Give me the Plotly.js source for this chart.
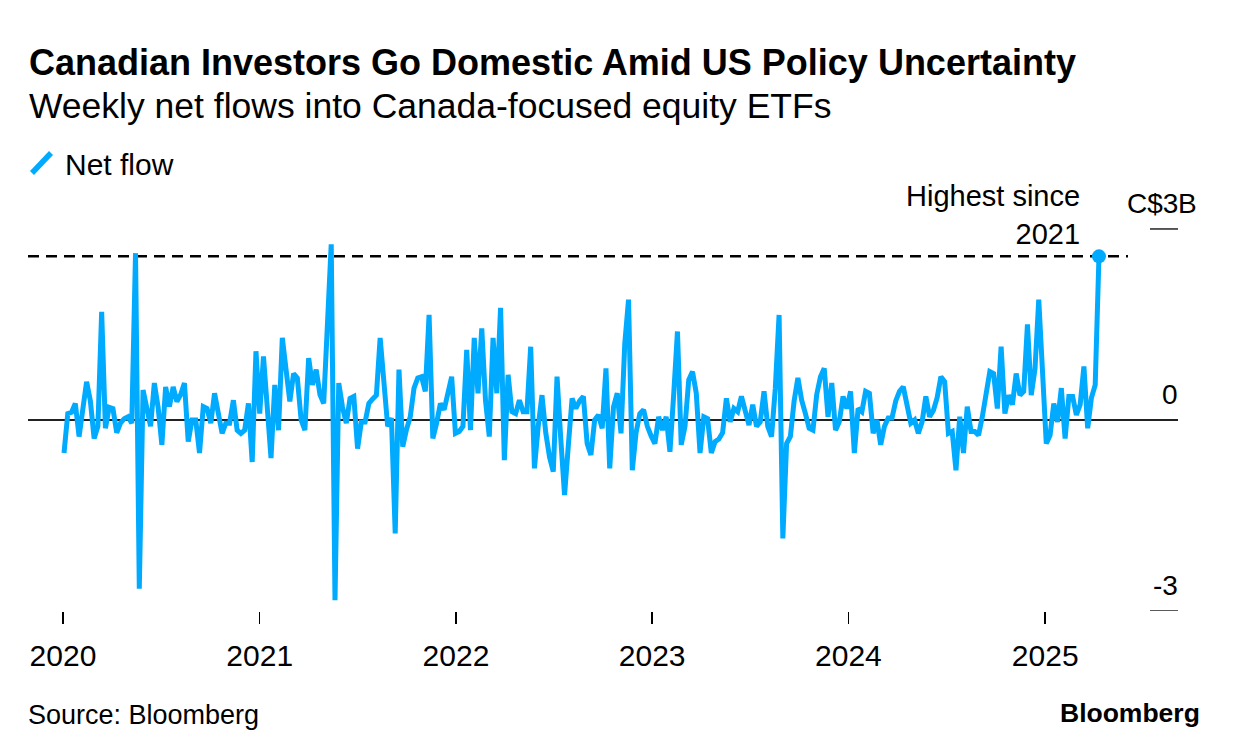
<!DOCTYPE html>
<html>
<head>
<meta charset="utf-8">
<script src="https://cdn.plot.ly/plotly-3.0.1.min.js"></script>
<style>
  html, body { margin: 0; padding: 0; background: #ffffff; }
  #chart { width: 1240px; height: 756px; }
</style>
</head>
<body>
<div id="chart"></div>
<script>
// ---- Data (weekly net flows, C$ billions) ----
const startDate = '2020-01-03';
const netFlow = [
  -0.52, 0.1, 0.12, 0.26, -0.26, 0.25, 0.6, 0.3, -0.29, -0.1,
  1.7, -0.13, 0.2, 0.18, -0.2, -0.05, 0.02, 0.05, -0.05, 2.62,
  -2.65, 0.47, 0.2, -0.1, 0.58, 0.2, -0.39, 0.52, 0.21, 0.52,
  0.29, 0.4, 0.58, -0.34, 0.0, 0.0, -0.52, 0.21, 0.18, -0.05,
  0.42, 0.1, -0.21, -0.05, -0.05, 0.31, -0.16, -0.21, -0.16, 0.26,
  -0.66, 1.08, 0.1, 1.0, 0.3, -0.6, 0.55, -0.16, 1.29, 0.7,
  0.29, 0.73, 0.66, 0.0, -0.16, 0.97, 0.55, 0.79, 0.4, 0.26,
  1.4, 2.76, -2.83, 0.58, 0.2, -0.05, 0.34, 0.37, -0.45, -0.03,
  -0.03, 0.26, 0.33, 0.39, 1.29, 0.6, -0.1, 0.03, -1.78, 0.79,
  -0.42, -0.15, 0.05, 0.5, 0.66, 0.68, 0.45, 1.65, -0.29, -0.05,
  0.26, 0.16, 0.4, 0.68, -0.21, -0.18, -0.1, 1.1, -0.16, 1.29,
  0.42, 1.44, 0.3, -0.26, 1.29, 0.42, 1.76, -0.63, 0.71, 0.13,
  0.1, 0.31, 0.13, 0.13, 1.15, -0.76, -0.1, 0.39, -0.2, -0.58,
  -0.81, 0.68, -0.3, -1.18, -0.4, 0.34, 0.18, 0.3, 0.37, -0.37,
  -0.55, 0.0, 0.08, -0.13, 0.81, -0.76, 0.2, 0.42, -0.21, 1.2,
  1.89, -0.79, -0.2, 0.1, 0.16, -0.1, -0.25, -0.37, 0.05, -0.16,
  0.05, -0.5, 0.4, 1.39, -0.39, -0.1, 0.63, 0.76, 0.42, -0.52,
  0.05, 0.02, -0.52, -0.34, -0.3, -0.2, 0.34, -0.03, 0.18, 0.13,
  0.37, 0.15, -0.08, 0.24, -0.1, -0.03, 0.45, -0.1, -0.26, 0.5,
  1.65, -1.86, -0.37, -0.26, 0.3, 0.66, 0.31, 0.1, -0.13, -0.16,
  0.4, 0.68, 0.81, 0.05, 0.58, -0.16, -0.03, 0.37, 0.18, 0.45,
  -0.52, 0.18, 0.13, 0.45, 0.42, -0.21, 0.0, -0.39, -0.1, 0.03,
  0.03, 0.3, 0.45, 0.52, 0.2, -0.05, 0.0, -0.21, -0.03, 0.37,
  0.05, 0.15, 0.35, 0.68, 0.6, -0.21, -0.18, -0.79, 0.05, -0.52,
  0.21, -0.18, -0.18, -0.24, 0.05, 0.4, 0.76, 0.73, 0.18, 1.15,
  0.1, 0.39, 0.24, 0.73, 0.39, 0.45, 1.5, 0.39, 0.8, 1.89,
  0.6, -0.37, -0.24, 0.26, -0.03, 0.5, -0.29, 0.37, 0.37, 0.08,
  0.24, 0.84, -0.13, 0.35, 0.55, 2.57
];
const xTickVals = ['2020-01-01', '2021-01-01', '2022-01-01', '2023-01-01', '2024-01-01', '2025-01-01'];
const xTickText = ['2020', '2021', '2022', '2023', '2024', '2025'];
const yTickVals = [3, 0, -3];
const yTickText = ['C$3', '0', '-3'];
const yUnitSuffix = 'B';
const titleText = 'Canadian Investors Go Domestic Amid US Policy Uncertainty';
const subtitleText = 'Weekly net flows into Canada-focused equity ETFs';
const seriesName = 'Net flow';
const noteText = 'Highest since<br>2021';
const sourceText = 'Source: Bloomberg';
const brandText = 'Bloomberg';

// ---- Build weekly dates ----
const dates = netFlow.map((_, i) => {
  const d = new Date(startDate + 'T00:00:00Z');
  d.setUTCDate(d.getUTCDate() + 7 * i);
  return d.toISOString().slice(0, 10);
});
const lastIdx = netFlow.length - 1;
const lastVal = netFlow[lastIdx];

// ---- Styling ----
const BLUE = '#00aaff';
const FONT = 'Liberation Sans, Arial, Helvetica, sans-serif';
const W = 1240, H = 756;
const M = { l: 28, r: 62, t: 200, b: 145 };
const plotW = W - M.l - M.r, plotH = H - M.t - M.b;
const px = x => (x - M.l) / plotW;          // pixel x -> paper x
const py = y => (H - M.b - y) / plotH;      // pixel y -> paper y

const traces = [
  {
    type: 'scatter', mode: 'lines', x: dates, y: netFlow, name: seriesName,
    line: { color: BLUE, width: 5, shape: 'linear' },
    hoverinfo: 'skip', showlegend: false
  },
  {
    type: 'scatter', mode: 'markers', x: [dates[lastIdx]], y: [lastVal],
    marker: { color: BLUE, size: 14 }, hoverinfo: 'skip', showlegend: false
  }
];

const annotations = [];
// title & subtitle
annotations.push({ xref: 'paper', yref: 'paper', x: px(27), y: py(62), xanchor: 'left', yanchor: 'middle',
  text: '<b>' + titleText + '</b>', showarrow: false, font: { family: FONT, size: 36, color: '#000' } });
annotations.push({ xref: 'paper', yref: 'paper', x: px(27), y: py(106), xanchor: 'left', yanchor: 'middle',
  text: subtitleText, showarrow: false, font: { family: FONT, size: 35.5, color: '#000' } });
// legend text
annotations.push({ xref: 'paper', yref: 'paper', x: px(63), y: py(164), xanchor: 'left', yanchor: 'middle',
  text: seriesName, showarrow: false, font: { family: FONT, size: 30, color: '#000' } });
// y tick labels (drawn above short tick lines at right)
yTickVals.forEach((v, k) => {
  annotations.push({ xref: 'paper', yref: 'y', x: 1, y: v, xanchor: 'right', yanchor: 'bottom', yshift: 8, xshift: 2,
    text: yTickText[k], showarrow: false, font: { family: FONT, size: 28, color: '#000' } });
});
annotations.push({ xref: 'paper', yref: 'y', x: 1, y: yTickVals[0], xanchor: 'left', yanchor: 'bottom', yshift: 8, xshift: -2,
  text: yUnitSuffix, showarrow: false, font: { family: FONT, size: 28, color: '#000' } });
// note
annotations.push({ xref: 'paper', yref: 'paper', x: px(1082), y: py(215), xanchor: 'right', yanchor: 'middle', align: 'right',
  text: noteText, showarrow: false, font: { family: FONT, size: 29, color: '#000' } });
// source & brand
annotations.push({ xref: 'paper', yref: 'paper', x: px(26), y: py(715), xanchor: 'left', yanchor: 'middle',
  text: sourceText, showarrow: false, font: { family: FONT, size: 27, color: '#000' } });
annotations.push({ xref: 'paper', yref: 'paper', x: px(1202), y: py(713), xanchor: 'right', yanchor: 'middle',
  text: '<b>' + brandText + '</b>', showarrow: false, font: { family: FONT, size: 26.5, color: '#000' } });

const shapes = [
  // dashed "highest since" reference line
  { type: 'line', xref: 'paper', yref: 'y', x0: 0, x1: px(1128), y0: lastVal, y1: lastVal, layer: 'below',
    line: { color: '#000', width: 2.5, dash: '11px,7px' } },
  // short right-side tick lines for +/-3
  { type: 'line', xref: 'paper', yref: 'y', x0: px(1150), x1: 1, y0: yTickVals[0], y1: yTickVals[0],
    line: { color: '#000', width: 1.3 } },
  { type: 'line', xref: 'paper', yref: 'y', x0: px(1150), x1: 1, y0: yTickVals[2], y1: yTickVals[2],
    line: { color: '#000', width: 1.3 } },
  // legend slash
  { type: 'line', xref: 'paper', yref: 'paper', x0: px(32), y0: py(173), x1: px(51), y1: py(153),
    line: { color: BLUE, width: 5.5 } }
];

const layout = {
  width: W, height: H,
  margin: M,
  paper_bgcolor: '#fff', plot_bgcolor: '#fff',
  showlegend: false,
  xaxis: {
    type: 'date',
    range: ['2019-10-28', '2025-09-05'],
    tickvals: xTickVals, ticktext: xTickText,
    ticks: 'outside', ticklen: 12, tickwidth: 1.5, tickcolor: '#000',
    ticklabelstandoff: 6,
    showgrid: false, zeroline: false, showline: false,
    tickfont: { family: FONT, size: 30, color: '#000' },
    fixedrange: true
  },
  yaxis: {
    range: [-3, 3.455],
    showticklabels: false, ticks: '',
    showgrid: false, showline: false,
    zeroline: true, zerolinecolor: '#222', zerolinewidth: 1.5,
    fixedrange: true
  },
  annotations: annotations,
  shapes: shapes
};

Plotly.newPlot('chart', traces, layout, { displayModeBar: false, staticPlot: true });
</script>
</body>
</html>
